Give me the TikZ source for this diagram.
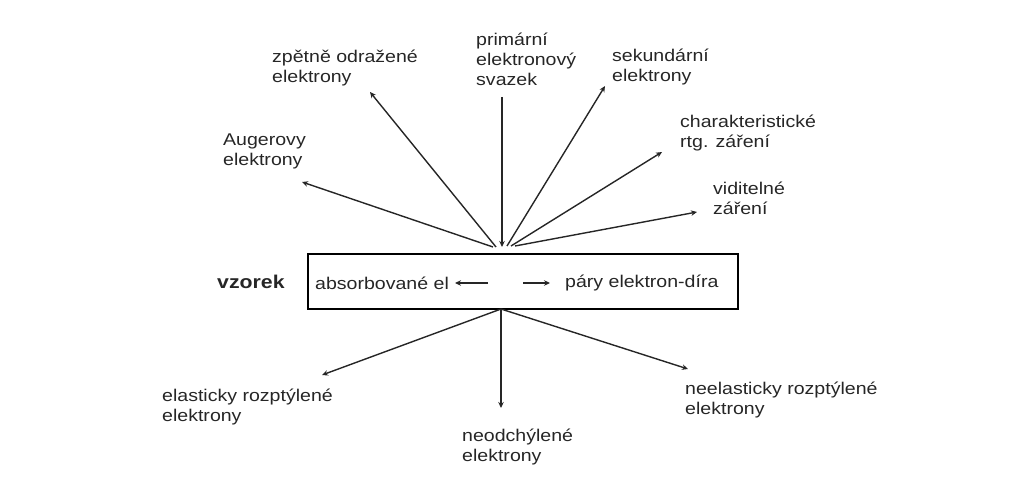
\documentclass[tikz,border=0pt]{standalone}
\usepackage{fontspec}
\setmainfont[FakeStretch=1.15]{Liberation Sans}
\usetikzlibrary{arrows.meta}
\begin{document}
\begin{tikzpicture}[x=1pt,y=-1pt,
  lbl/.style={anchor=west,inner sep=0pt,align=left,text=black!85,font=\fontsize{17}{20}\selectfont},
  arr/.style={draw=black!85,line width=1.4pt,-{Stealth[length=6pt,width=5.5pt]}},
  samplebox/.style={draw=black,line width=1.6pt}]
\useasboundingbox (0,0) rectangle (1035,484);
% sample box
\node[samplebox,inner sep=0pt,minimum width=430pt,minimum height=55pt,anchor=north west] (box) at (307,253) {};
\node[anchor=west,inner sep=0pt,font=\bfseries\fontsize{18.5}{20}\selectfont,text=black!85] (vz) at (217,282) {vzorek};
\node[lbl] (abs) at (315,283) {absorbované el};
\node[lbl] (par) at (565,283) {páry elektron-díra};
\coordinate (a1) at (488,283); \coordinate (a2) at (455,283);
\coordinate (b1) at (523,283); \coordinate (b2) at (550,283);
\draw[arr] (a1) -- (a2);
\draw[arr] (b1) -- (b2);
% labels top
\node[lbl] (zp) at (272,68) {zpětně odražené\\elektrony};
\node[lbl] (pr) at (476,59) {primární\\elektronový\\svazek};
\node[lbl] (se) at (612,67) {sekundární\\elektrony};
\node[lbl] (au) at (223,151) {Augerovy\\elektrony};
\node[lbl] (ch) at (680,133) {charakteristické\\rtg. záření};
\node[lbl] (vi) at (713,198) {viditelné\\záření};
% labels bottom
\node[lbl] (el) at (162,407) {elasticky rozptýlené\\elektrony};
\node[lbl] (ne) at (462,447) {neodchýlené\\elektrony};
\node[lbl] (in) at (685,400) {neelasticky rozptýlené\\elektrony};
% arrow coordinates
\coordinate (pS) at (502,97); \coordinate (pE) at (502,247);
\coordinate (t1) at (496,247); \coordinate (zpE) at (370,92);
\coordinate (t2) at (493,247); \coordinate (auE) at (302,182);
\coordinate (t3) at (507,246); \coordinate (seE) at (605,86);
\coordinate (t4) at (511,246); \coordinate (chE) at (662,152);
\coordinate (t5) at (515,246); \coordinate (viE) at (697,212);
\coordinate (bh) at (501,309);
\coordinate (elE) at (322,375); \coordinate (neE) at (501,408); \coordinate (inE) at (688,369);
\draw[arr] (pS) -- (pE);
\draw[arr] (t1) -- (zpE);
\draw[arr] (t2) -- (auE);
\draw[arr] (t3) -- (seE);
\draw[arr] (t4) -- (chE);
\draw[arr] (t5) -- (viE);
\draw[arr] (bh) -- (elE);
\draw[arr] (bh) -- (neE);
\draw[arr] (bh) -- (inE);
\end{tikzpicture}
\end{document}
